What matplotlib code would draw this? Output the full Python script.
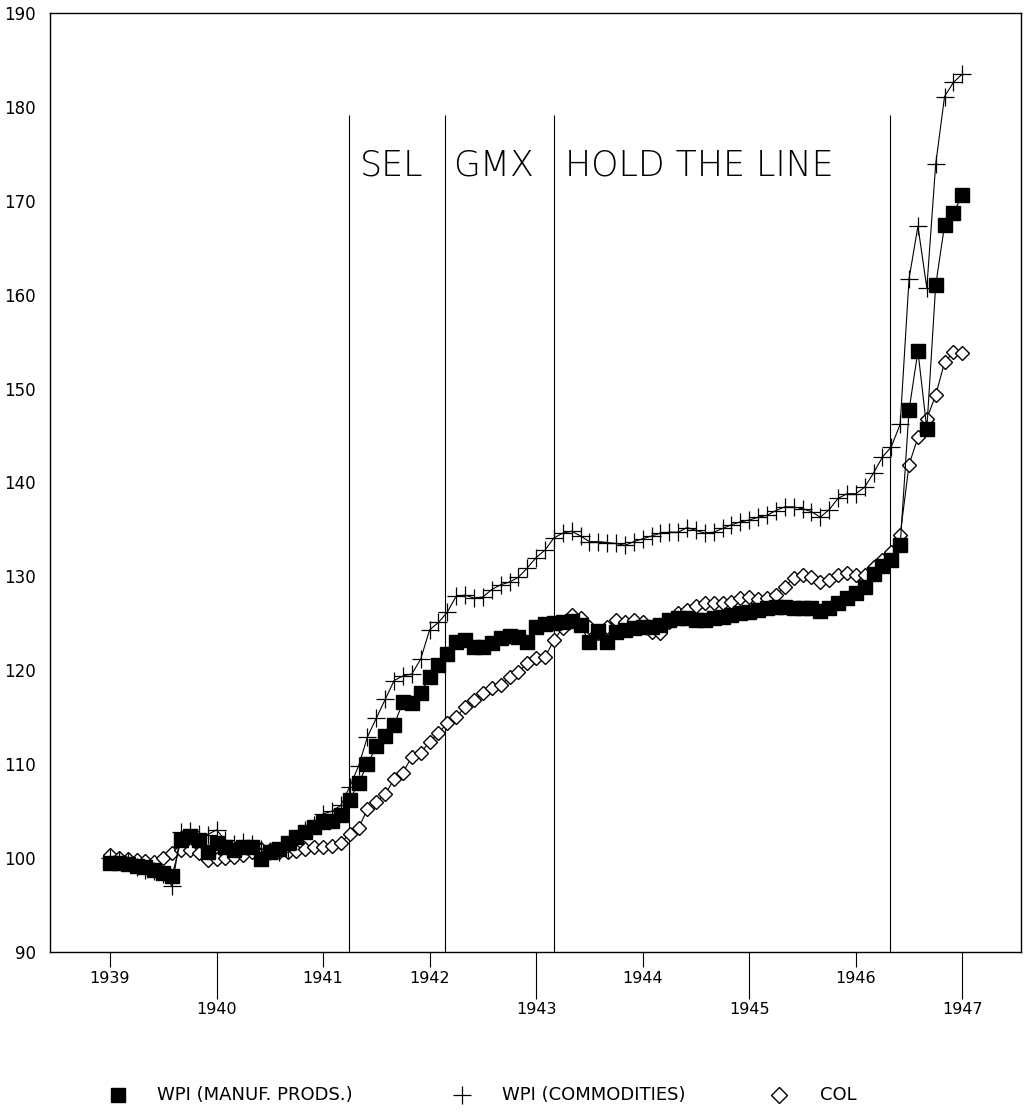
import matplotlib
matplotlib.use('Agg')
import matplotlib.pyplot as plt
from matplotlib.lines import Line2D
from matplotlib.ticker import FixedLocator, FixedFormatter

plt.rcParams['font.family'] = ['DejaVu Sans']

# monthly, Jan 1939 .. Jan 1947
wpi_manuf = [
    99.5, 99.5, 99.4, 99.2, 99.0, 98.7, 98.4, 98.1, 101.9, 102.3, 101.9, 100.7,
    101.6, 101.2, 100.9, 101.2, 101.2, 99.9, 100.6, 101.0, 101.6, 102.2, 102.8, 103.3,
    103.8, 104.0, 104.6, 106.2, 108.0, 110.0, 111.9, 113.0, 114.2, 116.6, 116.5, 117.6,
    119.3, 120.6, 121.7, 123.0, 123.2, 122.5, 122.5, 122.9, 123.4, 123.7, 123.5, 123.0,
    124.6, 124.9, 125.0, 125.1, 125.3, 124.8, 123.0, 124.2, 123.0, 124.1, 124.3, 124.5,
    124.6, 124.6, 124.8, 125.4, 125.6, 125.6, 125.4, 125.4, 125.6, 125.7, 125.9, 126.1,
    126.2, 126.4, 126.6, 126.7, 126.7, 126.6, 126.6, 126.6, 126.3, 126.6, 127.2, 127.7,
    128.2, 128.9, 130.2, 131.1, 131.7, 133.3, 147.7, 154.0, 145.7, 161.0, 167.4, 168.7,
    170.6]

wpi_comm = [
    100.0, 99.8, 99.6, 99.1, 98.7, 98.6, 98.3, 97.0, 102.8, 102.9, 102.6, 102.5,
    103.0, 101.9, 101.5, 101.7, 101.5, 101.0, 100.8, 100.7, 101.0, 101.8, 103.0, 103.5,
    104.7, 105.0, 105.6, 107.6, 109.8, 112.9, 114.9, 116.9, 118.9, 119.4, 119.6, 121.2,
    124.3, 125.1, 126.2, 127.9, 128.0, 127.7, 127.8, 128.6, 129.1, 129.4, 129.9, 130.9,
    132.0, 132.8, 134.1, 134.6, 134.8, 134.3, 133.7, 133.7, 133.6, 133.5, 133.3, 133.7,
    134.0, 134.3, 134.6, 134.7, 134.7, 135.2, 134.9, 134.6, 134.7, 135.1, 135.5, 135.8,
    136.0, 136.3, 136.5, 137.0, 137.4, 137.4, 137.2, 136.9, 136.3, 137.1, 138.3, 138.8,
    138.8, 139.5, 141.0, 142.7, 143.8, 146.2, 161.7, 167.3, 160.7, 173.9, 181.1, 182.6,
    183.5]

col = [
    100.3, 100.0, 99.9, 99.8, 99.7, 99.6, 100.0, 100.5, 100.9, 100.9, 100.5, 99.8,
    99.9, 100.0, 100.1, 100.3, 100.6, 101.0, 100.9, 100.7, 100.6, 100.8, 101.0, 101.2,
    101.2, 101.3, 101.6, 102.6, 103.2, 105.2, 106.0, 106.8, 108.4, 109.1, 110.8, 111.2,
    112.4, 113.3, 114.4, 115.0, 116.1, 116.8, 117.6, 118.1, 118.4, 119.3, 119.8, 120.8,
    121.3, 121.4, 123.2, 124.5, 125.9, 125.6, 124.6, 124.0, 124.6, 125.4, 125.1, 125.4,
    125.1, 124.1, 124.0, 125.1, 126.1, 126.4, 126.8, 127.2, 127.2, 127.2, 127.3, 127.7,
    127.8, 127.6, 127.7, 128.0, 128.9, 129.8, 130.1, 129.9, 129.4, 129.6, 130.1, 130.4,
    130.1, 130.1, 131.0, 131.7, 132.6, 134.4, 141.9, 144.8, 146.8, 149.3, 152.8, 153.9,
    153.8]

months = [1939 + i / 12 for i in range(len(wpi_manuf))]

# policy periods
period_lines = [1941.244, 1942.146, 1943.169, 1946.324]
period_labels = ['SEL', 'GMX', 'HOLD THE LINE']
period_label_x = [1941.347, 1942.221, 1943.272]

years_short = [1939, 1941, 1942, 1944, 1946]
years_long = [1940, 1943, 1945, 1947]
y_ticks = list(range(90, 191, 10))

legend_names = ['WPI (MANUF. PRODS.)', 'WPI (COMMODITIES)', 'COL']

fig = plt.figure(figsize=(10.24, 11.15), dpi=100)
ax = fig.add_axes([0.0488, 0.1462, 0.9482, 0.8422])

ax.plot(months, col, color='black', lw=0.8, marker='D', ms=7.5, mfc='white',
        mec='black', mew=1.0, zorder=2)
ax.plot(months, wpi_manuf, color='black', lw=0.8, marker='s', ms=10,
        mfc='black', mec='black', zorder=3)
ax.plot(months, wpi_comm, color='black', lw=0.8, marker='+', ms=13,
        mew=0.9, zorder=4)

ax.vlines(period_lines, 90, 179.1, color='black', lw=0.8, zorder=1)
for x, lab in zip(period_label_x, period_labels):
    ax.text(x, 173.8, lab, fontsize=25, va='center', ha='left', color='black',
            fontweight='light')

ax.set_xlim(1938.437, 1947.55)
ax.set_ylim(90, 190)
ax.set_yticks(y_ticks)
ax.set_yticklabels([str(v) for v in y_ticks])
ax.tick_params(axis='y', length=0, pad=10, labelsize=12)

ax.xaxis.set_major_locator(FixedLocator(years_short))
ax.xaxis.set_major_formatter(FixedFormatter([str(y) for y in years_short]))
ax.xaxis.set_minor_locator(FixedLocator(years_long))
ax.xaxis.set_minor_formatter(FixedFormatter([str(y) for y in years_long]))
ax.tick_params(axis='x', which='major', length=11, width=0.8, pad=3, labelsize=11.5)
ax.tick_params(axis='x', which='minor', length=34, width=0.8, pad=2, labelsize=11.5)

for s in ax.spines.values():
    s.set_linewidth(1.0)

# legend row along the bottom
ly = 0.018
fig.add_artist(Line2D([0.115], [ly], transform=fig.transFigure, marker='s',
                      ms=10, color='black', ls='none'))
fig.add_artist(Line2D([0.451], [ly], transform=fig.transFigure, marker='+',
                      ms=13, mew=0.9, color='black', ls='none'))
fig.add_artist(Line2D([0.761], [ly], transform=fig.transFigure, marker='D',
                      ms=8, mfc='white', mec='black', ls='none'))
for x, name in zip([0.153, 0.490, 0.801], legend_names):
    fig.text(x, ly, name, fontsize=13, va='center', ha='left')

fig.savefig('out.png', dpi=100)
